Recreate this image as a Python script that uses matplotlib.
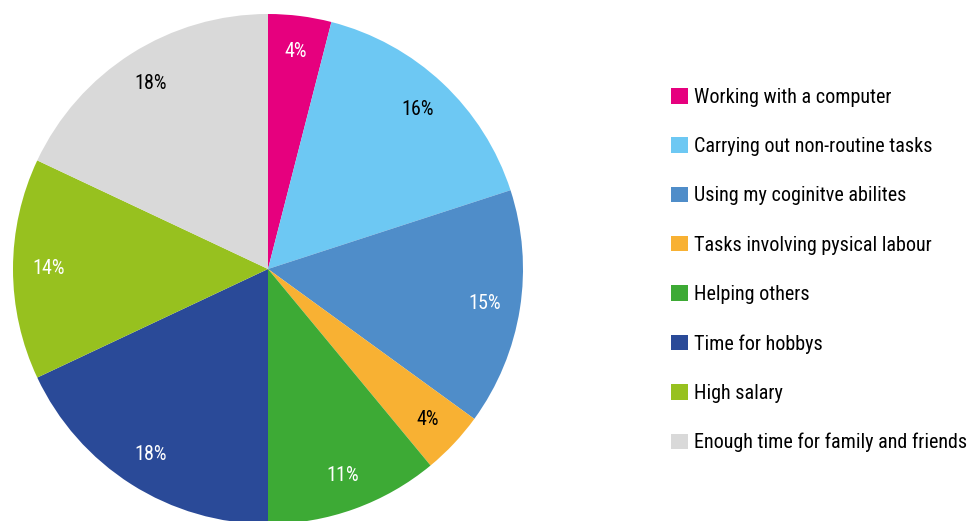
import matplotlib
matplotlib.use("Agg")
import matplotlib.pyplot as plt

plt.rcParams["font.family"] = ["Roboto Condensed", "Roboto", "DejaVu Sans"]

# Share of answers per job aspect (percent)
categories = [
    "Working with a computer",
    "Carrying out non-routine tasks",
    "Using my coginitve abilites",
    "Tasks involving pysical labour",
    "Helping others",
    "Time for hobbys",
    "High salary",
    "Enough time for family and friends",
]
shares = [4, 16, 15, 4, 11, 18, 14, 18]
colors = ["#E6007E", "#6DC8F3", "#4F8DC9", "#F8B133",
          "#3DAA35", "#2A4A98", "#97C11F", "#D9D9D9"]
label_colors = ["white", "black", "white", "black",
                "white", "white", "white", "black"]

W, H = 970, 521
fig = plt.figure(figsize=(W / 100, H / 100), dpi=100)

# pie centre and radius in pixels
cx, cy, r = 268, 269, 255
ax = fig.add_axes([(cx - r) / W, (H - cy - r) / H, 2 * r / W, 2 * r / H])

wedges, texts, autotexts = ax.pie(
    shares,
    colors=colors,
    startangle=90,
    counterclock=False,
    autopct=lambda p: "%d%%" % round(p),
    pctdistance=0.86,
    wedgeprops={"linewidth": 0},
    textprops={"fontsize": 14.5},
)
for t, c in zip(autotexts, label_colors):
    t.set_color(c)

ax.set_xlim(-1, 1)
ax.set_ylim(-1, 1)
ax.set_aspect("equal")
ax.axis("off")

fig.legend(
    wedges,
    categories,
    loc="upper left",
    bbox_to_anchor=(671 / W, 1 - 88 / H),
    frameon=False,
    fontsize=14.5,
    handlelength=0.82,
    handleheight=0.82,
    handletextpad=0.33,
    labelspacing=1.5,
    borderpad=0,
    borderaxespad=0,
)

fig.savefig("out.png", dpi=100)
